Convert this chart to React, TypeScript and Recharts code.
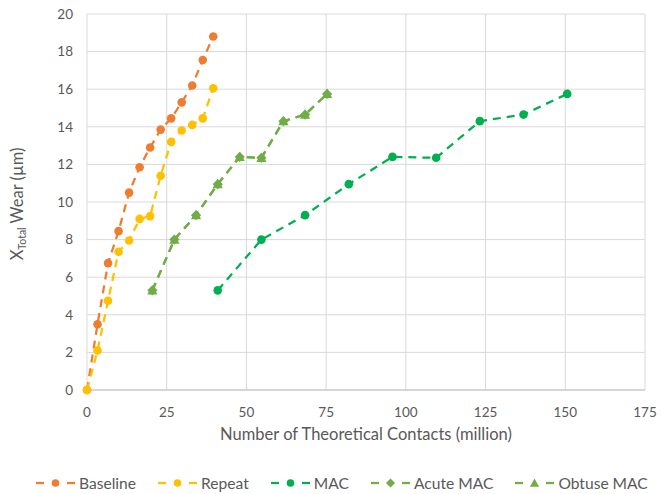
import { LineChart, Line, XAxis, YAxis, CartesianGrid } from "recharts";

// number of theoretical contacts (million) vs total wear (µm)
const baselineContacts = [0, 3.3, 6.6, 9.9, 13.2, 16.5, 19.8, 23.1, 26.4, 29.7, 33.0, 36.3, 39.6];
const baselineWear = [0, 3.5, 6.75, 8.45, 10.5, 11.85, 12.9, 13.85, 14.45, 15.3, 16.2, 17.55, 18.8];

const repeatContacts = [0, 3.3, 6.6, 9.9, 13.2, 16.5, 19.8, 23.1, 26.4, 29.7, 33.0, 36.3, 39.6];
const repeatWear = [0, 2.1, 4.75, 7.35, 7.95, 9.1, 9.25, 11.4, 13.2, 13.8, 14.1, 14.45, 16.05];

const macContacts = [41.0, 54.7, 68.4, 82.1, 95.8, 109.5, 123.2, 136.9, 150.6];
const macWear = [5.3, 8.0, 9.3, 10.95, 12.4, 12.35, 14.3, 14.65, 15.75];

const acuteContacts = [20.5, 27.4, 34.2, 41.0, 47.9, 54.7, 61.6, 68.4, 75.3];
const acuteWear = [5.3, 8.0, 9.3, 10.95, 12.4, 12.35, 14.3, 14.65, 15.75];

const obtuseContacts = [20.5, 27.4, 34.2, 41.0, 47.9, 54.7, 61.6, 68.4, 75.3];
const obtuseWear = [5.3, 8.0, 9.3, 10.95, 12.4, 12.35, 14.3, 14.65, 15.75];

const xTicks = [0, 25, 50, 75, 100, 125, 150, 175];
const yTicks = [0, 2, 4, 6, 8, 10, 12, 14, 16, 18, 20];

const toPoints = (xs: number[], ys: number[]) => xs.map((x, i) => ({ x, y: ys[i] }));

const FONT = "Lato, 'Open Sans', sans-serif";
const TEXT = "#595959";

type Shape = "circle" | "diamond" | "triangle";

const series: { name: string; color: string; shape: Shape; data: { x: number; y: number }[] }[] = [
  { name: "Baseline", color: "#ED7D31", shape: "circle", data: toPoints(baselineContacts, baselineWear) },
  { name: "Repeat", color: "#FFC000", shape: "circle", data: toPoints(repeatContacts, repeatWear) },
  { name: "MAC", color: "#00B050", shape: "circle", data: toPoints(macContacts, macWear) },
  { name: "Acute MAC", color: "#70AD47", shape: "diamond", data: toPoints(acuteContacts, acuteWear) },
  { name: "Obtuse MAC", color: "#70AD47", shape: "triangle", data: toPoints(obtuseContacts, obtuseWear) },
];

function Marker({ cx, cy, shape, color, size = 4.3 }: { cx: number; cy: number; shape: Shape; color: string; size?: number }) {
  if (shape === "diamond") {
    const s = size + 0.8;
    return <polygon points={`${cx},${cy - s} ${cx + s},${cy} ${cx},${cy + s} ${cx - s},${cy}`} fill={color} />;
  }
  if (shape === "triangle") {
    const s = size + 0.8;
    return <polygon points={`${cx},${cy - s} ${cx + s},${cy + s * 0.8} ${cx - s},${cy + s * 0.8}`} fill={color} />;
  }
  return <circle cx={cx} cy={cy} r={size} fill={color} />;
}

const makeDot = (shape: Shape, color: string) => (props: any) => {
  const { cx, cy, index } = props;
  if (cx == null || cy == null) return <g key={index} />;
  return <Marker key={index} cx={cx} cy={cy} shape={shape} color={color} />;
};

function LegendRow() {
  return (
    <div
      style={{
        position: "absolute",
        left: 36,
        top: 472,
        display: "flex",
        alignItems: "center",
        fontFamily: FONT,
        fontSize: 15.6,
        lineHeight: "22px",
        color: TEXT,
        whiteSpace: "nowrap",
      }}
    >
      {series.map((s, i) => (
        <div
          key={s.name}
          style={{ display: "flex", alignItems: "center", marginRight: i === series.length - 1 ? 0 : 22 }}
        >
          <svg width={39} height={22} style={{ marginRight: 4 }}>
            <line x1={0} y1={11} x2={8} y2={11} stroke={s.color} strokeWidth={2.25} />
            <line x1={31} y1={11} x2={39} y2={11} stroke={s.color} strokeWidth={2.25} />
            <Marker cx={19.5} cy={11} shape={s.shape} color={s.color} size={3.8} />
          </svg>
          <span>{s.name}</span>
        </div>
      ))}
    </div>
  );
}

export default function App() {
  return (
    <div style={{ position: "absolute", left: 0, top: 0, width: 662, height: 494, background: "#fff" }}>
      <LineChart width={662} height={494} margin={{ top: 14, right: 17, bottom: 54, left: 27 }}>
        <CartesianGrid stroke="#D9D9D9" strokeWidth={1} />
        <XAxis
          type="number"
          dataKey="x"
          domain={[0, 175]}
          ticks={xTicks}
          interval={0}
          height={50}
          tickSize={0}
          tickMargin={17}
          axisLine={{ stroke: "#BFBFBF", strokeWidth: 1 }}
          tick={{ fill: TEXT, fontSize: 13.5, fontFamily: FONT }}
          label={{
            content: () => (
              <text x={366} y={440} textAnchor="middle" fill={TEXT} fontSize={16.5} fontFamily={FONT}>
                Number of Theoretical Contacts (million)
              </text>
            ),
          }}
        />
        <YAxis
          type="number"
          dataKey="y"
          domain={[0, 20]}
          ticks={yTicks}
          interval={0}
          width={60}
          tickSize={0}
          tickMargin={14}
          axisLine={false}
          tick={{ fill: TEXT, fontSize: 13.5, fontFamily: FONT }}
          label={{
            content: () => (
              <text
                x={0}
                y={0}
                transform="translate(23 204) rotate(-90)"
                textAnchor="middle"
                fill={TEXT}
                fontSize={16.5}
                fontFamily={FONT}
              >
                X
                <tspan fontSize={10.5} dy={3}>Total</tspan>
                <tspan dy={-3}> Wear (µm)</tspan>
              </text>
            ),
          }}
        />
        {series.map((s) => (
          <Line
            key={s.name}
            name={s.name}
            data={s.data}
            dataKey="y"
            type="linear"
            stroke={s.color}
            strokeWidth={2.25}
            strokeDasharray="8 6"
            dot={makeDot(s.shape, s.color)}
            activeDot={false}
            isAnimationActive={false}
          />
        ))}
      </LineChart>
      <LegendRow />
    </div>
  );
}
